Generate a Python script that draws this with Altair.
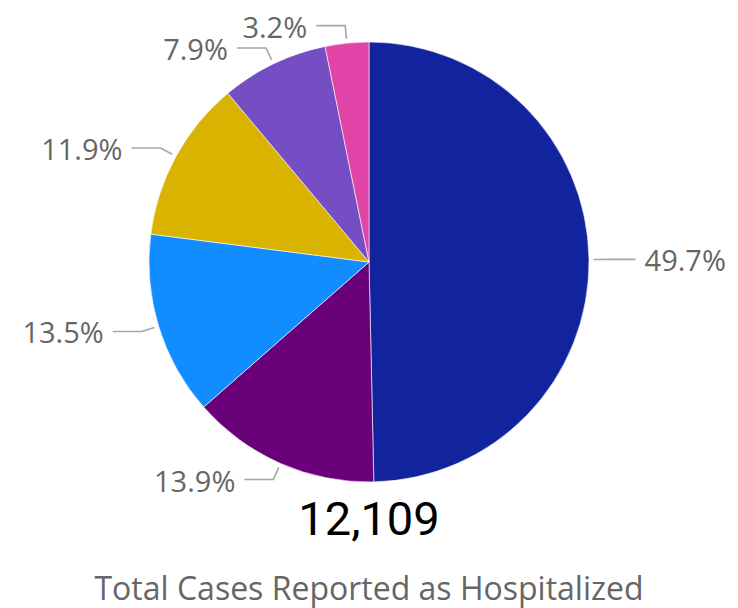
import altair as alt
import numpy as np
import pandas as pd

categories = ["Group 1", "Group 2", "Group 3", "Group 4", "Group 5", "Group 6"]
shares = [49.7, 13.9, 13.5, 11.9, 7.9, 3.2]
colors = ["#12239E", "#6B007B", "#118DFF", "#D9B300", "#744EC2", "#E044A7"]
total_cases = 12109
subtitle = "Total Cases Reported as Hospitalized"

PAD_TOP = 6
W, H = 722, 508 - 2 * PAD_TOP
R = 220

vals = np.array(shares)
total = vals.sum()
start = np.cumsum(vals) - vals
mid = (start + vals / 2) / total * 2 * np.pi
sx, cy = np.sin(mid), np.cos(mid)
side = np.where(sx >= 0, 1, -1)

pie_df = pd.DataFrame({"cat": categories, "share": shares, "idx": range(len(shares))})

line_rows = []
label_rows = []
for i, c in enumerate(categories):
    p0 = (R * 1.02 * sx[i], R * 1.02 * cy[i])
    p1 = (R * 1.08 * sx[i], R * 1.08 * cy[i])
    p2 = (p1[0] + side[i] * 29, p1[1])
    for k, p in enumerate([p0, p1, p2]):
        line_rows.append({"cat": c, "k": k, "x": p[0], "y": p[1]})
    label_rows.append({"cat": c, "x": p2[0] + side[i] * 9, "y": p2[1],
                       "label": f"{shares[i]:.1f}%", "side": int(side[i])})
line_df = pd.DataFrame(line_rows)
label_df = pd.DataFrame(label_rows)

xs = alt.Scale(domain=[-W / 2, W / 2], nice=False, zero=False)
ys = alt.Scale(domain=[-H / 2, H / 2], nice=False, zero=False)

pie = alt.Chart(pie_df).mark_arc(outerRadius=R, stroke="white", strokeWidth=0.6).encode(
    theta=alt.Theta("share:Q", stack=True),
    order=alt.Order("idx:Q"),
    color=alt.Color("cat:N", scale=alt.Scale(domain=categories, range=colors), legend=None),
)

lines = alt.Chart(line_df).mark_line(color="#A6A6A6", strokeWidth=1.6).encode(
    x=alt.X("x:Q", scale=xs, axis=None),
    y=alt.Y("y:Q", scale=ys, axis=None),
    detail="cat:N",
    order="k:Q",
)

lab_font = "Open Sans"
lab_size = 29
right_labels = alt.Chart(label_df).transform_filter("datum.side > 0").mark_text(
    align="left", baseline="middle", fontSize=lab_size, font=lab_font, color="#666666", dy=3
).encode(x=alt.X("x:Q", scale=xs, axis=None), y=alt.Y("y:Q", scale=ys, axis=None), text="label:N")

left_labels = alt.Chart(label_df).transform_filter("datum.side < 0").mark_text(
    align="right", baseline="middle", fontSize=lab_size, font=lab_font, color="#666666", dy=3
).encode(x=alt.X("x:Q", scale=xs, axis=None), y=alt.Y("y:Q", scale=ys, axis=None), text="label:N")

big = alt.Chart(pd.DataFrame({"t": [f"{total_cases:,}"]})).mark_text(
    align="center", baseline="middle", fontSize=47, font="Roboto", color="#000000"
).encode(x=alt.value(W / 2), y=alt.value(H + PAD_TOP + 5), text="t:N")

sub = alt.Chart(pd.DataFrame({"t": [subtitle]})).mark_text(
    align="center", baseline="middle", fontSize=32, font=lab_font, color="#666666"
).encode(x=alt.value(W / 2), y=alt.value(H + PAD_TOP + 74), text="t:N")

chart = alt.layer(pie, lines, right_labels, left_labels, big, sub).properties(
    width=W, height=H,
    autosize=alt.AutoSizeParams(type="none"),
    padding={"left": 0, "top": PAD_TOP, "right": 0, "bottom": 600 - H - PAD_TOP},
).configure_view(stroke=None)

chart.save("out.html", embed_options={"renderer": "svg", "actions": False})
